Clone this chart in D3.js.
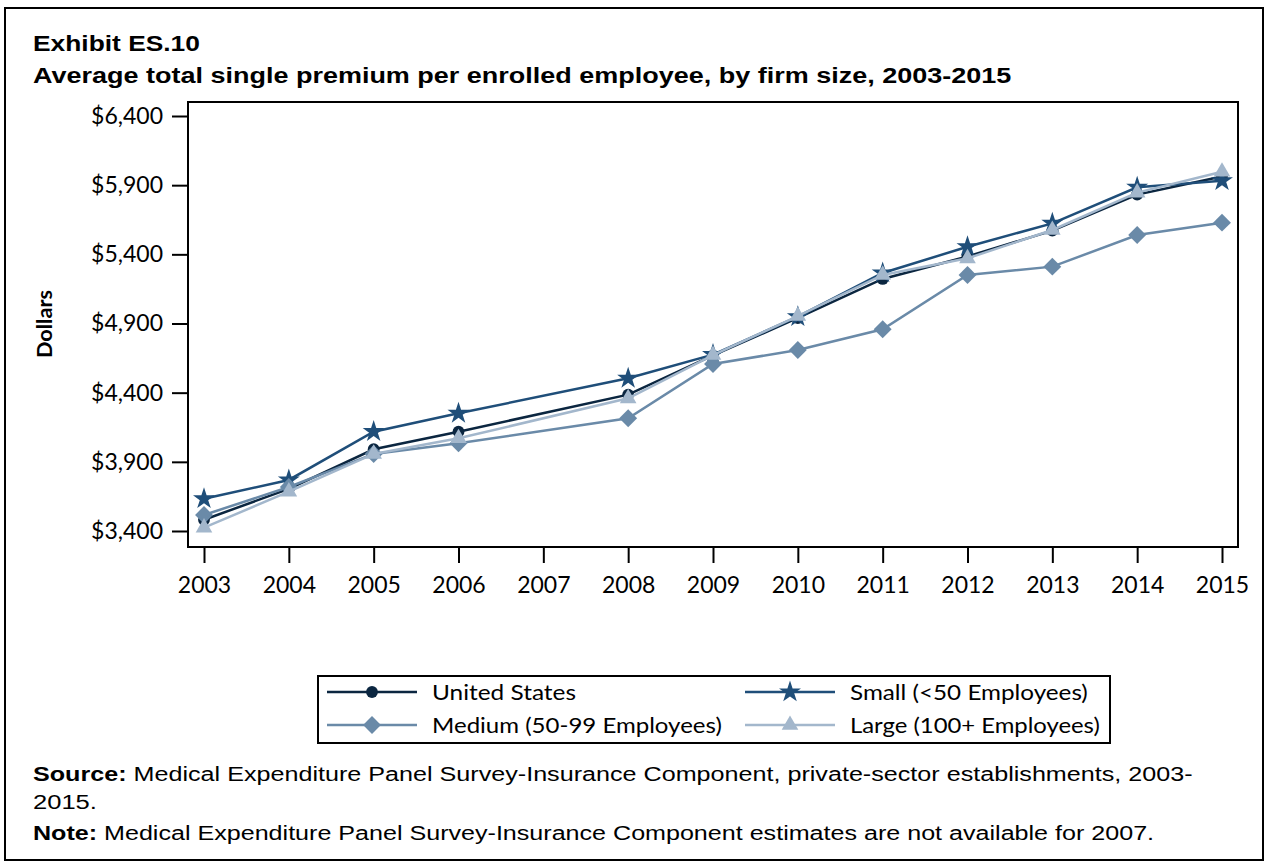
<!DOCTYPE html>
<html><head><meta charset="utf-8">
<script src="https://cdn.jsdelivr.net/npm/d3@7"></script>
<style>body{margin:0;background:#fff}svg{display:block}</style>
</head><body>
<svg id="chart" width="1269" height="865"></svg>
<script>
const years = [2003, 2004, 2005, 2006, 2008, 2009, 2010, 2011, 2012, 2013, 2014, 2015];
const tickYears = [2003, 2004, 2005, 2006, 2007, 2008, 2009, 2010, 2011, 2012, 2013, 2014, 2015];
const yTicks = [3400, 3900, 4400, 4900, 5400, 5900, 6400];
const seriesNames = ["United States", "Small (<50 Employees)", "Medium (50-99 Employees)", "Large (100+ Employees)"];
const unitedStates = [3481, 3705, 3991, 4118, 4386, 4669, 4940, 5222, 5384, 5571, 5832, 5963];
const small = [3633, 3769, 4118, 4251, 4504, 4675, 4949, 5265, 5455, 5624, 5885, 5932];
const medium = [3516, 3718, 3957, 4034, 4215, 4607, 4708, 4858, 5251, 5311, 5540, 5629];
const large = [3424, 3684, 3957, 4070, 4359, 4672, 4954, 5251, 5371, 5576, 5846, 5997];

const colors = ["#0b2640", "#1f4e79", "#6a8aa8", "#a3b7cc"];
const diamond = {
  draw(ctx, size) {
    const r = Math.sqrt(size / 2);
    ctx.moveTo(0, -r); ctx.lineTo(r, 0); ctx.lineTo(0, r); ctx.lineTo(-r, 0); ctx.closePath();
  }
};
const shapes = [d3.symbolCircle, d3.symbolStar, diamond, d3.symbolTriangle];
const sizes = [110, 150, 160, 120];
const values = [unitedStates, small, medium, large];

const svg = d3.select("#chart");
const tickFont = "Lato, 'Open Sans', sans-serif";
const textFont = "'Liberation Sans', Arial, sans-serif";

function stretch(t, x, y, target) {
  const w = t.node().getComputedTextLength();
  t.attr("x", 0).attr("y", 0).attr("transform", `translate(${x},${y}) scale(${target / w},1)`);
}

// outer frame
svg.append("rect").attr("x", 5).attr("y", 8).attr("width", 1258).attr("height", 852)
  .attr("fill", "none").attr("stroke", "#000").attr("stroke-width", 2);

stretch(svg.append("text").attr("font-family", textFont).attr("font-weight", "bold")
  .attr("font-size", 22).text("Exhibit ES.10"), 33, 51, 167);
stretch(svg.append("text").attr("font-family", textFont).attr("font-weight", "bold")
  .attr("font-size", 22)
  .text("Average total single premium per enrolled employee, by firm size, 2003-2015"), 33, 83, 979);

const x = d3.scaleLinear().domain([2003, 2015]).range([204, 1222]);
const y = d3.scaleLinear().domain([3400, 6400]).range([531, 116]);

const plotL = 188, plotR = 1238, plotT = 102, plotB = 547;

// y axis
const yAxis = svg.append("g").attr("transform", `translate(${plotL},0)`)
  .call(d3.axisLeft(y).tickValues(yTicks).tickSize(16).tickPadding(9)
    .tickFormat(d => "$" + d3.format(",")(d)));
yAxis.select(".domain").remove();
yAxis.selectAll("line").attr("stroke", "#000").attr("stroke-width", 2);
yAxis.selectAll("text").attr("font-family", tickFont).attr("font-size", 23).attr("fill", "#000");

// x axis
const xAxis = svg.append("g").attr("transform", `translate(0,${plotB})`)
  .call(d3.axisBottom(x).tickValues(tickYears).tickSize(16).tickPadding(14)
    .tickFormat(d3.format("d")));
xAxis.select(".domain").remove();
xAxis.selectAll("line").attr("stroke", "#000").attr("stroke-width", 2);
xAxis.selectAll("text").attr("font-family", tickFont).attr("font-size", 23).attr("fill", "#000");

// plot frame
svg.append("rect").attr("x", plotL).attr("y", plotT).attr("width", plotR - plotL).attr("height", plotB - plotT)
  .attr("fill", "none").attr("stroke", "#000").attr("stroke-width", 2);

svg.append("text").attr("transform", "translate(52,324) rotate(-90)").attr("text-anchor", "middle")
  .attr("font-family", tickFont).attr("font-weight", "bold").attr("font-size", 21)
  .attr("textLength", 68).attr("lengthAdjust", "spacingAndGlyphs").text("Dollars");

const line = d3.line().x((d, i) => x(years[i])).y(d => y(d));

values.forEach((vals, s) => {
  const g = svg.append("g");
  g.append("path").datum(vals).attr("d", line).attr("fill", "none")
    .attr("stroke", colors[s]).attr("stroke-width", 2.5);
  g.selectAll("path.m").data(vals).join("path").attr("class", "m")
    .attr("transform", (d, i) => `translate(${x(years[i])},${y(d)})`)
    .attr("d", d3.symbol().type(shapes[s]).size(sizes[s]))
    .attr("fill", colors[s]);
});

// legend
svg.append("rect").attr("x", 318).attr("y", 676).attr("width", 792).attr("height", 67)
  .attr("fill", "none").attr("stroke", "#000").attr("stroke-width", 2);
const legPos = [[327, 692], [745, 692], [327, 725], [745, 725]];
const legWidths = [144, 238, 290, 250];
seriesNames.forEach((name, s) => {
  const [lx, ly] = legPos[s];
  svg.append("line").attr("x1", lx).attr("x2", lx + 90).attr("y1", ly).attr("y2", ly)
    .attr("stroke", colors[s]).attr("stroke-width", 2.5);
  svg.append("path").attr("transform", `translate(${lx + 45},${ly})`)
    .attr("d", d3.symbol().type(shapes[s]).size(sizes[s])).attr("fill", colors[s]);
  const t = svg.append("text").attr("dy", "0.35em")
    .attr("font-family", tickFont).attr("font-size", 22).text(name);
  stretch(t, lx + 105, ly, legWidths[s]);
});

// source / note
const src = svg.append("text").attr("font-family", textFont).attr("font-size", 21);
src.append("tspan").attr("font-weight", "bold").text("Source:");
src.append("tspan").text(" Medical Expenditure Panel Survey-Insurance Component, private-sector establishments, 2003-");
stretch(src, 33, 781, 1160);
stretch(svg.append("text").attr("font-family", textFont).attr("font-size", 21).text("2015."), 33, 809, 64);
const note = svg.append("text").attr("font-family", textFont).attr("font-size", 21);
note.append("tspan").attr("font-weight", "bold").text("Note:");
note.append("tspan").text(" Medical Expenditure Panel Survey-Insurance Component estimates are not available for 2007.");
stretch(note, 33, 840, 1122);
</script>
</body></html>
